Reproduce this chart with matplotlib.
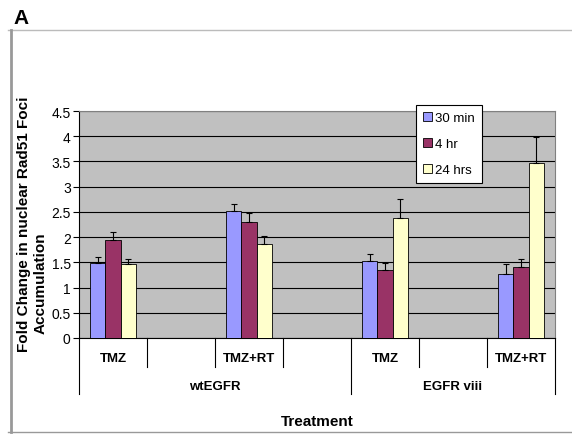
import matplotlib.pyplot as plt
import numpy as np
from matplotlib.lines import Line2D
from matplotlib.transforms import blended_transform_factory

plt.rcParams['font.family'] = ['Liberation Sans', 'DejaVu Sans']

# Data (empty slots in the category axis are NaN)
categories = ["TMZ", "", "TMZ+RT", "", "TMZ", "", "TMZ+RT"]
groups = ["wtEGFR", "EGFR viii"]
group_edges = [0, 4, 7]
series = ["30 min", "4 hr", "24 hrs"]
colors = ["#9999FF", "#993366", "#FFFFCC"]

nan = np.nan
min30 = [1.49, nan, 2.51, nan, 1.52, nan, 1.27]
hr4 = [1.94, nan, 2.29, nan, 1.34, nan, 1.41]
hrs24 = [1.46, nan, 1.86, nan, 2.37, nan, 3.46]
err30 = [0.11, nan, 0.14, nan, 0.15, nan, 0.20]
err4 = [0.16, nan, 0.18, nan, 0.15, nan, 0.15]
err24 = [0.10, nan, 0.16, nan, 0.38, nan, 0.53]

values = [min30, hr4, hrs24]
errors = [err30, err4, err24]

W, H = 572, 435
fig = plt.figure(figsize=(W / 100, H / 100), dpi=100)

# plot area in pixels
x0, x1, ytop, ybot = 79, 555, 112, 339
ax = fig.add_axes([x0 / W, 1 - ybot / H, (x1 - x0) / W, (ybot - ytop) / H])
ax.set_facecolor("#C0C0C0")
ah = ybot - ytop

x = np.arange(len(categories)) + 0.5
bw = 0.225
for k, (vals, errs) in enumerate(zip(values, errors)):
    v = np.array(vals)
    e = np.array(errs)
    pos = x + (k - 1) * bw
    ax.bar(pos, v, bw, color=colors[k], edgecolor="black", linewidth=0.6,
           label=series[k], zorder=3)
    ok = ~np.isnan(v)
    ax.errorbar(pos[ok], v[ok], yerr=[np.zeros(ok.sum()), e[ok]], fmt="none",
                ecolor="black", elinewidth=0.8, capsize=2.5, capthick=0.8,
                zorder=4)

ax.set_xlim(0, len(categories))
ax.set_ylim(0, 4.5)
ax.set_yticks(np.arange(0, 4.51, 0.5))
ax.set_yticklabels([f"{t:g}" for t in np.arange(0, 4.51, 0.5)], fontsize=10)
ax.yaxis.grid(True, color="black", linewidth=0.8)
ax.set_axisbelow(True)
ax.set_xticks([])
ax.tick_params(axis="y", length=4, width=0.8, pad=2, color="black")
for s in ["top", "right"]:
    ax.spines[s].set_color("#808080")
for s in ["left", "bottom"]:
    ax.spines[s].set_color("black")
    ax.spines[s].set_linewidth(0.8)

# multi-level category axis
tr = blended_transform_factory(ax.transData, ax.transAxes)
for i in range(len(categories) + 1):
    depth = 56 if i in group_edges else 29
    ax.add_line(Line2D([i, i], [0, -depth / ah], transform=tr, color="black",
                       linewidth=0.8, clip_on=False))
for i, c in enumerate(categories):
    if c:
        ax.text(i + 0.5, -20 / ah, c, transform=tr, ha="center", va="center",
                fontsize=9.5, fontweight="bold")
for g, a, b in zip(groups, group_edges[:-1], group_edges[1:]):
    ax.text((a + b) / 2, -48 / ah, g, transform=tr, ha="center", va="center",
            fontsize=9.5, fontweight="bold")
ax.text(0.5, -83 / ah, "Treatment", transform=ax.transAxes, ha="center",
        va="center", fontsize=11, fontweight="bold")

# y label (two lines)
fig.text(24 / W, 1 - 224 / H, "Fold Change in nuclear Rad51 Foci",
         rotation=90, ha="center", va="center", fontsize=11, fontweight="bold")
fig.text(41 / W, 1 - 283 / H, "Accumulation", rotation=90, ha="center",
         va="center", fontsize=11, fontweight="bold")

leg = ax.legend(loc="upper left", bbox_to_anchor=(416 / W, 1 - 106 / H),
                bbox_transform=fig.transFigure, fontsize=9.5, frameon=True,
                fancybox=False, edgecolor="black", framealpha=1,
                handlelength=0.65, handleheight=0.65, handletextpad=0.25,
                labelspacing=1.05, borderpad=0.55, borderaxespad=0)
leg.get_frame().set_linewidth(0.8)

# panel letter and outer frame
fig.text(13 / W, 1 - 18 / H, "A", fontsize=15, fontweight="bold", va="center")
fig.add_artist(Line2D([8 / W, 1], [1 - 31 / H] * 2, color="#BBBBBB", linewidth=1))
fig.add_artist(Line2D([8 / W, 1], [1 - 433 / H] * 2, color="#999999", linewidth=1))
fig.add_artist(Line2D([11 / W] * 2, [1 - 31 / H, 1 - 433 / H], color="#999999",
                      linewidth=2))

fig.savefig("out.png", dpi=100)
